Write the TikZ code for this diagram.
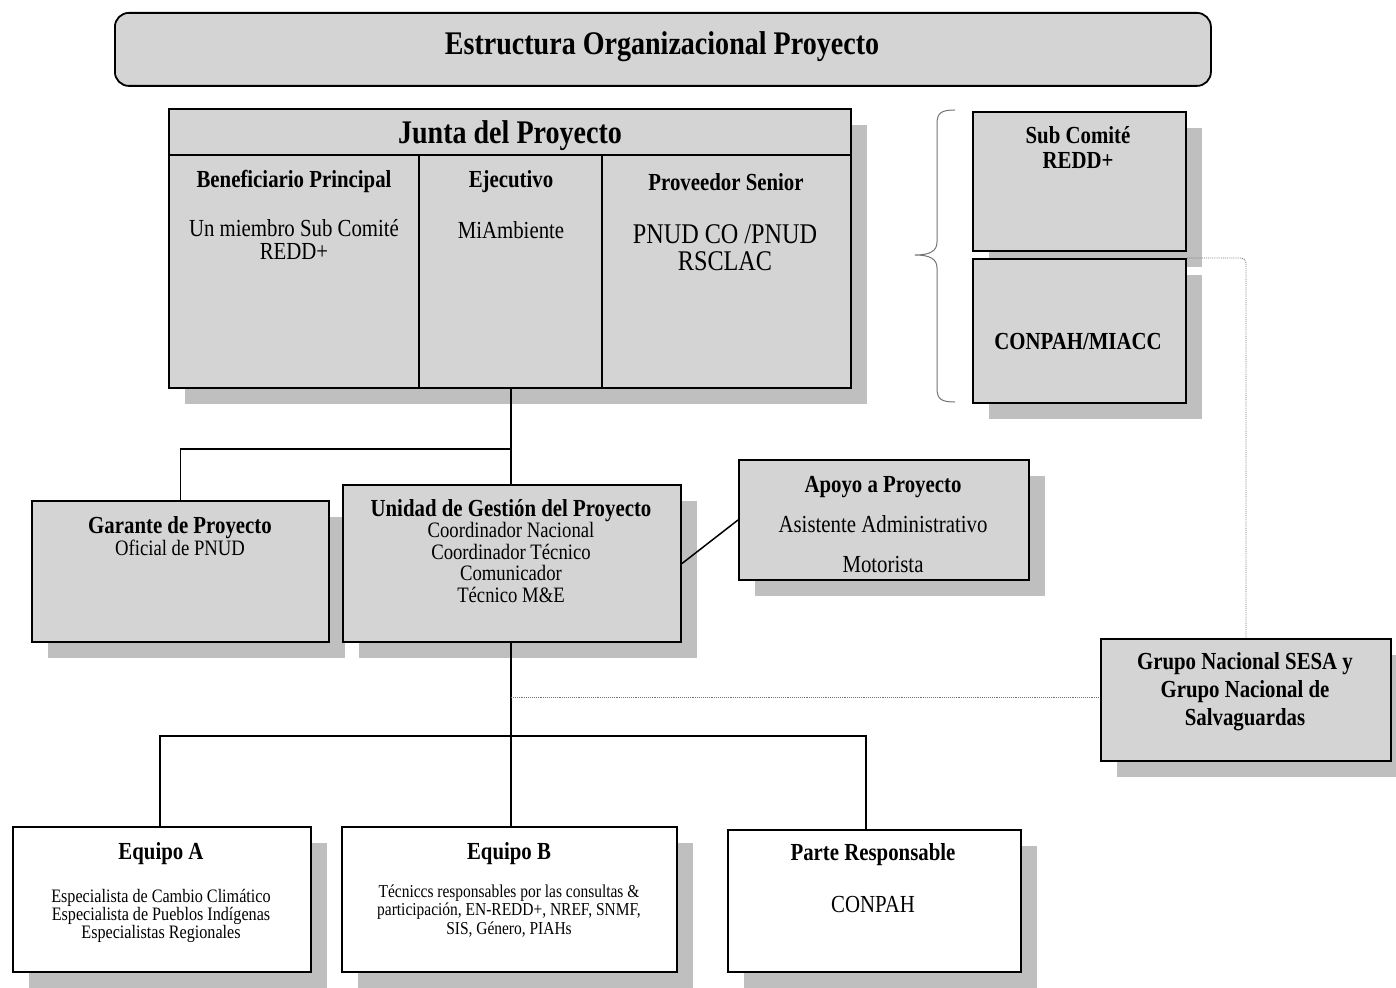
\documentclass[tikz,border=0pt]{standalone}
\usepackage{fontspec}
\setmainfont[FakeStretch=0.85]{Liberation Serif}
\usetikzlibrary{shadows}
\definecolor{boxgray}{gray}{0.83}
\definecolor{shadowgray}{gray}{0.75}
\definecolor{dotgray}{gray}{0.45}
\tikzset{
  shbox/.style={draw=black, line width=2pt, fill=boxgray, inner sep=0pt, anchor=north west,
    drop shadow={shadow xshift=16pt, shadow yshift=-16pt, fill=shadowgray, opacity=1}},
  whbox/.style={shbox, fill=white},
  conn/.style={draw=black, line width=1.5pt},
  dotline/.style={draw=dotgray, line width=0.9pt, densely dotted},
  lbl/.style={inner sep=0pt, align=center, text=black, yshift=-2pt},
  hd/.style={lbl, font=\bfseries\fontsize{24.5}{23}\selectfont},
  bd/.style={lbl, font=\fontsize{24.5}{23}\selectfont},
}
\begin{document}
\begin{tikzpicture}[x=1pt,y=-1pt]
\useasboundingbox (0,0) rectangle (1396,987);
% title
\node[draw=black, line width=1.8pt, fill=boxgray, rounded corners=14pt, anchor=north west,
  minimum width=1096pt, minimum height=73pt, inner sep=0pt] (titlebox) at (114,12) {};
\node[lbl, font=\bfseries\fontsize{33}{35}\selectfont] (title) at (662,45) {Estructura Organizacional Proyecto};
% junta
\node[shbox, minimum width=682pt, minimum height=279pt] (junta) at (168,108) {};
\coordinate (jh) at (168,155);
\draw[line width=2pt] (jh) -- (jh -| junta.east);
\coordinate (c1) at (419,155);
\coordinate (c2) at (602,155);
\draw[line width=2pt] (c1) -- (c1 |- junta.south);
\draw[line width=2pt] (c2) -- (c2 |- junta.south);
\node[lbl, font=\bfseries\fontsize{33}{35}\selectfont] (juntat) at (510,134) {Junta del Proyecto};
\node[hd] (benef) at (294,179) {Beneficiario Principal};
\node[hd] (ejec) at (511,180) {Ejecutivo};
\node[hd] (prov) at (726,180) {Proveedor Senior};
\node[bd] (benefb) at (294,238) {Un miembro Sub Comité\\REDD+};
\node[bd] (ejecb) at (511,228) {MiAmbiente};
\node[lbl, font=\fontsize{28.5}{27}\selectfont] (provb) at (725,246) {PNUD CO /PNUD\\RSCLAC};
% right boxes
\node[shbox, minimum width=213pt, minimum height=139pt] (subc) at (972,111) {};
\node[hd, font=\bfseries\fontsize{24.5}{25}\selectfont] (subct) at (1078,146) {Sub Comité\\REDD+};
\node[shbox, minimum width=213pt, minimum height=144pt] (conpah) at (972,258) {};
\node[hd] (conpaht) at (1078,340) {CONPAH/MIACC};
% brace
\draw[draw=dotgray, line width=1pt]
  (955,110) .. controls (941,110) and (937,113) .. (937,124)
  -- (937,242) .. controls (937,251) and (930,255) .. (915,255)
  .. controls (930,255) and (937,259) .. (937,268)
  -- (937,388) .. controls (937,399) and (941,402) .. (955,402);
% middle row
\node[shbox, minimum width=297pt, minimum height=141pt] (garante) at (31,500) {};
\node[lbl, font=\fontsize{22}{22}\selectfont] (garantet) at (180,534) {{\bfseries\fontsize{24.5}{22}\selectfont Garante de Proyecto}\\Oficial de PNUD};
\node[shbox, minimum width=338pt, minimum height=157pt] (ugp) at (342,484) {};
\node[lbl, font=\fontsize{22}{21.5}\selectfont] (ugpt) at (511,549) {{\bfseries\fontsize{24.5}{21.5}\selectfont Unidad de Gestión del Proyecto}\\Coordinador Nacional\\Coordinador Técnico\\Comunicador\\Técnico M\&E};
\node[shbox, minimum width=290pt, minimum height=120pt] (apoyo) at (738,459) {};
\node[lbl, font=\fontsize{24.5}{40}\selectfont] (apoyot) at (883,523) {{\bfseries Apoyo a Proyecto}\\Asistente Administrativo\\Motorista};
\node[shbox, minimum width=290pt, minimum height=122pt] (grupo) at (1100,638) {};
\node[hd, font=\bfseries\fontsize{24.5}{28}\selectfont] (grupot) at (1245,690) {Grupo Nacional SESA y\\Grupo Nacional de\\Salvaguardas};
% bottom row
\node[whbox, minimum width=298pt, minimum height=145pt] (eqa) at (12,826) {};
\node[hd] (eqah) at (161,852) {Equipo A};
\node[lbl, font=\fontsize{19}{18}\selectfont] (eqat) at (161,914) {Especialista de Cambio Climático\\Especialista de Pueblos Indígenas\\Especialistas Regionales};
\node[whbox, minimum width=335pt, minimum height=145pt] (eqb) at (341,826) {};
\node[hd] (eqbh) at (509,852) {Equipo B};
\node[lbl, font=\fontsize{18.2}{18.5}\selectfont] (eqbt) at (509,909) {Técniccs responsables por las consultas \&\\participación, EN-REDD+, NREF, SNMF,\\SIS, Género, PIAHs};
\node[whbox, minimum width=293pt, minimum height=142pt] (parte) at (727,829) {};
\node[hd] (parteh) at (873,853) {Parte Responsable};
\node[bd] (partet) at (873,902) {CONPAH};
% connectors
\coordinate (j1) at (511,449);
\draw[conn] (j1 |- junta.south) -- (j1) -| (garante.north);
\draw[conn] (j1) -- (j1 |- ugp.north);
\draw[conn] (ugp.east) -- (apoyo.west);
\coordinate (u1) at (511,736);
\coordinate (u2) at (866,736);
\coordinate (u0) at (160,736);
\draw[conn] (u1 |- ugp.south) -- (u1);
\draw[conn] (u0 |- eqa.north) -- (u0) -- (u2) -- (u2 |- parte.north);
\draw[conn] (u1) -- (u1 |- eqb.north);
\coordinate (d1) at (511,697);
\draw[dotline] (d1) -- (d1 -| grupo.west);
\draw[dotline, rounded corners=5pt] (conpah.north east) -| (grupo.north);
\end{tikzpicture}
\end{document}
